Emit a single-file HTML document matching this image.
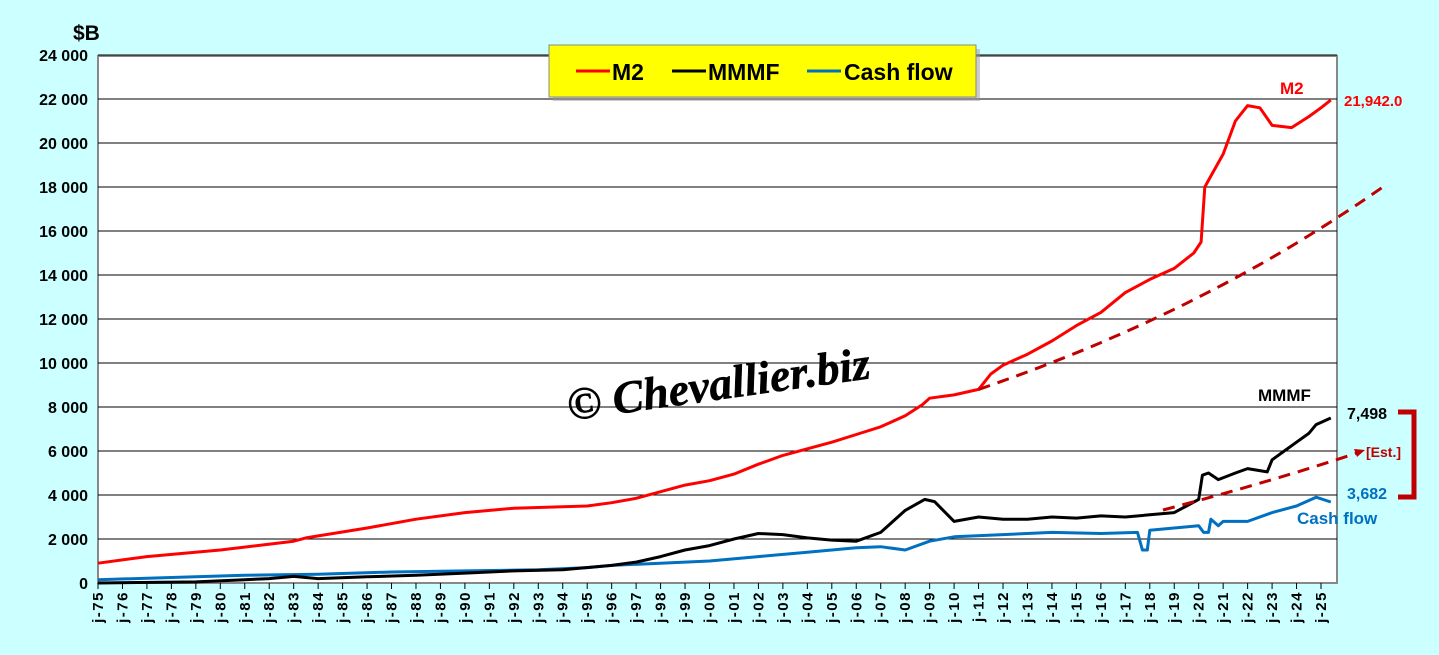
<!DOCTYPE html>
<html><head><meta charset="utf-8"><style>
body{margin:0;background:#ccffff;}
svg{display:block;font-family:"Liberation Sans",Arial,sans-serif;}
</style></head><body>
<svg id="c" width="1439" height="655" xmlns="http://www.w3.org/2000/svg">
<rect width="1439" height="655" fill="#ccffff"/>
<rect x="98" y="56" width="1239" height="527" fill="#fff" stroke="#888" stroke-width="2"/>
<g id="grid"></g>
<g id="lab"></g>
<text x="73" y="40" font-size="21" font-weight="bold">$B</text>
<text x="565" y="402" font-family="Liberation Serif,serif" font-style="italic" font-size="46" font-weight="bold" fill="#000" stroke="#000" stroke-width="0.5" transform="rotate(-8 700 380)">© Chevallier.biz</text>
<g id="series"></g>
<rect x="553" y="49" width="427" height="52" fill="#999" opacity="0.5"/>
<rect x="549" y="45" width="427" height="52" fill="#ffff00" stroke="#888" stroke-width="1"/>
<line x1="576" y1="71" x2="610" y2="71" stroke="#f00" stroke-width="3"/>
<text x="612" y="80" font-size="23" font-weight="bold">M2</text>
<line x1="672" y1="71" x2="706" y2="71" stroke="#000" stroke-width="3"/>
<text x="708" y="80" font-size="23" font-weight="bold">MMMF</text>
<line x1="807" y1="71" x2="841" y2="71" stroke="#0070c0" stroke-width="3"/>
<text x="844" y="80" font-size="23" font-weight="bold">Cash flow</text>
<text x="1280" y="94" font-size="17" font-weight="bold" fill="#f00">M2</text>
<text x="1344" y="106" font-size="15" font-weight="bold" fill="#f00">21,942.0</text>
<text x="1258" y="401" font-size="17" font-weight="bold">MMMF</text>
<text x="1347" y="419" font-size="16" font-weight="bold">7,498</text>
<text x="1347" y="499" font-size="16" font-weight="bold" fill="#0070c0">3,682</text>
<text x="1297" y="524" font-size="17" font-weight="bold" fill="#0070c0">Cash flow</text>
<text x="1366" y="457" font-size="14" font-weight="bold" fill="#c00000">[Est.]</text>
<path d="M1398,412 H1414 V497 H1398" fill="none" stroke="#c00000" stroke-width="5"/>
</svg>
<script>
var NS="http://www.w3.org/2000/svg";
function X(y){return 98+(y-1975)*24.46}
function Y(v){return 583-v*0.022}
function el(t,a,p,txt){var e=document.createElementNS(NS,t);for(var k in a)e.setAttribute(k,a[k]);if(txt!=null)e.textContent=txt;document.getElementById(p).appendChild(e);return e}
for(var v=2000;v<=24000;v+=2000){el('line',{x1:98,x2:1337,y1:Y(v),y2:Y(v),stroke:'#000','stroke-width':1},'grid');}
for(var v=0;v<=24000;v+=2000){var s=v==0?'0':(Math.floor(v/1000)+' 000');el('text',{x:88,y:Y(v)+6,'font-size':16,'font-weight':'bold','text-anchor':'end'},'lab',s);}
for(var y=1975;y<=2025;y++){var x=X(y);el('line',{x1:x,x2:x,y1:583,y2:589,stroke:'#000'},'grid');
var yy=('0'+(y%100)).slice(-2);el('text',{x:0,y:0,'font-size':15,'font-weight':'bold','letter-spacing':'1.5','text-anchor':'end',transform:'translate('+(x+5)+',591) rotate(-90)'},'lab','j-'+yy);}
function pl(d,c,w){var p=d.map(function(a){return X(a[0]).toFixed(1)+','+Y(a[1]).toFixed(1)}).join(' ');el('polyline',{points:p,fill:'none',stroke:c,'stroke-width':w,'stroke-linejoin':'round'},'series')}
var cf=[[1975,150],[1978,250],[1981,350],[1984,400],[1987,500],[1990,550],[1993,600],[1995,700],[1996,800],[1998,900],[2000,1000],[2002,1200],[2004,1400],[2006,1600],[2007,1650],[2008,1500],[2009,1900],[2010,2100],[2012,2200],[2014,2300],[2016,2250],[2017.5,2300],[2017.7,1500],[2017.9,1500],[2018,2400],[2019,2500],[2020,2600],[2020.2,2300],[2020.4,2300],[2020.5,2900],[2020.8,2600],[2021,2800],[2022,2800],[2023,3200],[2024,3500],[2024.8,3900],[2025.4,3682]];
var mm=[[1975,0],[1979,50],[1981,150],[1982,200],[1983,300],[1984,200],[1986,280],[1988,350],[1990,450],[1992,550],[1994,600],[1996,800],[1997,950],[1998,1200],[1999,1500],[2000,1700],[2001,2000],[2002,2250],[2003,2200],[2004,2050],[2005,1950],[2006,1900],[2007,2300],[2008,3300],[2008.8,3800],[2009.2,3700],[2010,2800],[2011,3000],[2012,2900],[2013,2900],[2014,3000],[2015,2950],[2016,3050],[2017,3000],[2018,3100],[2019,3200],[2019.5,3500],[2020,3800],[2020.15,4900],[2020.4,5000],[2020.8,4700],[2021.5,5000],[2022,5200],[2022.8,5050],[2023,5600],[2023.5,6000],[2024,6400],[2024.5,6800],[2024.8,7200],[2025.4,7498]];
var m2=[[1975,900],[1977,1200],[1980,1500],[1983,1900],[1983.5,2050],[1986,2500],[1988,2900],[1990,3200],[1992,3400],[1995,3500],[1996,3650],[1997,3850],[1998,4150],[1999,4450],[2000,4650],[2001,4950],[2002,5400],[2003,5800],[2004,6100],[2005,6400],[2006,6750],[2007,7100],[2008,7600],[2008.7,8100],[2009,8400],[2010,8550],[2011,8800],[2011.5,9500],[2012,9900],[2013,10400],[2014,11000],[2015,11700],[2016,12300],[2017,13200],[2018,13800],[2019,14300],[2019.8,15000],[2020.1,15500],[2020.25,18000],[2020.5,18500],[2021,19500],[2021.5,21000],[2022,21700],[2022.5,21600],[2023,20800],[2023.8,20700],[2024.5,21200],[2025,21600],[2025.4,21950]];
pl(cf,'#0070c0',3);pl(mm,'#000',3);pl(m2,'#f00',3);
var est=[];for(var t=2011;t<=27.8+2000.01;t+=0.5){est.push([t,8800*Math.exp(0.0433*(t-2011))]);}
var pe=est.map(function(a){return X(a[0]).toFixed(1)+','+Y(a[1]).toFixed(1)}).join(' ');
el('polyline',{points:pe,fill:'none',stroke:'#c00000','stroke-width':3,'stroke-dasharray':'12,8'},'series');
el('path',{d:'M1163,510 Q1270,482 1360,452',fill:'none',stroke:'#c00000','stroke-width':3,'stroke-dasharray':'12,8'},'series');
el('path',{d:'M1354,449 L1365,450 L1357,457 Z',fill:'#c00000'},'series');
</script>
</body></html>
